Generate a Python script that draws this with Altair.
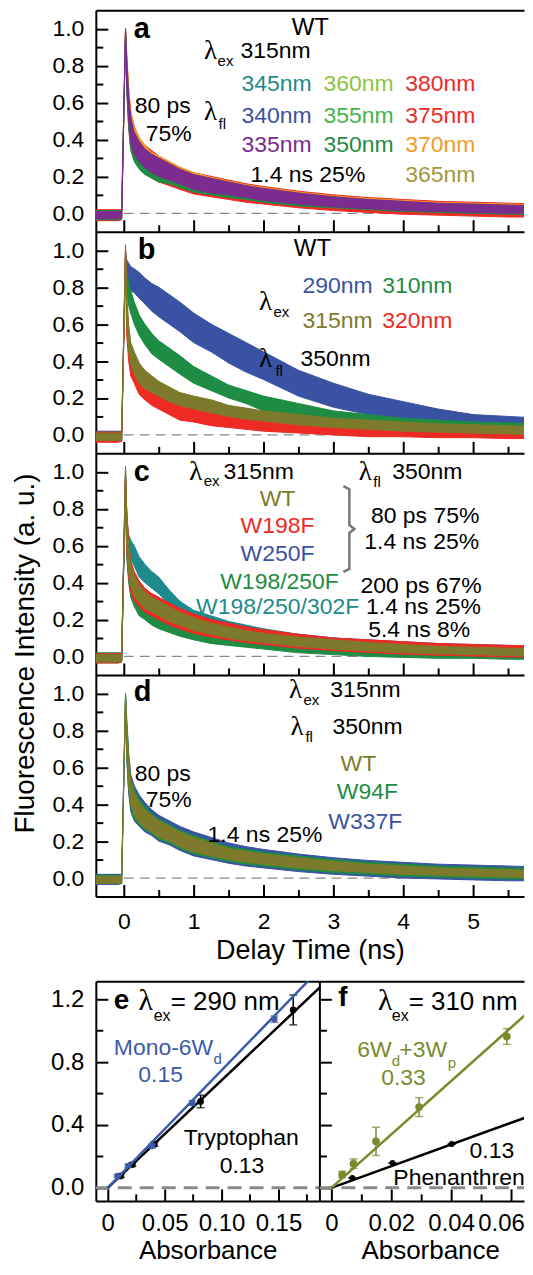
import altair as alt
import pandas as pd

FONT = "Liberation Sans"
SERIF = "Liberation Serif"

# ---------------- colours ----------------
PURPLE = "#7b2c8e"; RED = "#ee2a24"; ORANGE = "#f39c1f"; DKGREEN = "#1f8c44"
LTGREEN = "#8cc43f"; GREEN355 = "#45b549"; TEAL = "#1e8a8c"; BLUE = "#3a52a3"
OLIVE365 = "#a2973a"; OLIVE = "#7d7b2b"; OLIVE_F = "#7a8a2c"; BLUE_E = "#3e5aa8"

# ---------------- decay traces (noise envelope) ----------------
T = [-0.40, -0.20, -0.08, -0.03, 0.025, 0.04, 0.07, 0.10, 0.15, 0.22, 0.30, 0.40, 0.50, 0.65,
     0.80, 1.00, 1.25, 1.50, 1.75, 2.00, 2.50, 3.00, 3.50, 4.00, 4.50, 5.00, 5.50, 6.00]

# panel a (WT, lambda_ex 315 nm, several lambda_fl)
A_RED_LO = [-0.04, -0.04, -0.04, -0.035, 0.96, 0.70, 0.47, 0.35, 0.29, 0.25, 0.22, 0.19, 0.17, 0.15, 0.13, 0.105, 0.09, 0.075, 0.06, 0.05, 0.03, 0.015, 0.005, -0.005, -0.01, -0.015, -0.02, -0.02]
A_RED_HI = [0.02, 0.02, 0.02, 0.02, 1.0, 0.88, 0.67, 0.55, 0.47, 0.41, 0.37, 0.34, 0.31, 0.28, 0.25, 0.22, 0.2, 0.18, 0.16, 0.145, 0.12, 0.1, 0.085, 0.075, 0.065, 0.06, 0.055, 0.05]
A_ORANGE_LO = [-0.03, -0.03, -0.03, -0.025, 0.98, 0.74, 0.52, 0.40, 0.33, 0.29, 0.26, 0.23, 0.21, 0.19, 0.17, 0.14, 0.12, 0.105, 0.09, 0.075, 0.055, 0.04, 0.03, 0.02, 0.015, 0.01, 0.005, 0.005]
A_ORANGE_HI = [0.015, 0.015, 0.015, 0.015, 1.0, 0.88, 0.68, 0.55, 0.47, 0.41, 0.37, 0.33, 0.31, 0.28, 0.25, 0.22, 0.195, 0.175, 0.155, 0.14, 0.115, 0.095, 0.08, 0.07, 0.06, 0.055, 0.05, 0.045]
A_GREEN_LO = [-0.035, -0.035, -0.035, -0.03, 0.97, 0.68, 0.46, 0.34, 0.28, 0.24, 0.21, 0.19, 0.17, 0.16, 0.14, 0.115, 0.1, 0.085, 0.075, 0.06, 0.04, 0.03, 0.02, 0.01, 0.005, 0.0, -0.005, -0.005]
A_GREEN_HI = [0.015, 0.015, 0.015, 0.015, 1.0, 0.84, 0.62, 0.50, 0.42, 0.37, 0.33, 0.30, 0.28, 0.25, 0.22, 0.19, 0.17, 0.155, 0.14, 0.125, 0.1, 0.085, 0.07, 0.06, 0.05, 0.045, 0.04, 0.035]
A_PURPLE_LO = [-0.03, -0.03, -0.03, -0.025, 0.98, 0.72, 0.50, 0.38, 0.32, 0.28, 0.25, 0.22, 0.20, 0.18, 0.16, 0.13, 0.11, 0.10, 0.085, 0.07, 0.05, 0.035, 0.025, 0.015, 0.01, 0.005, 0.0, 0.0]
A_PURPLE_HI = [0.01, 0.01, 0.01, 0.01, 1.0, 0.85, 0.64, 0.52, 0.44, 0.39, 0.35, 0.32, 0.30, 0.27, 0.24, 0.21, 0.19, 0.17, 0.15, 0.135, 0.11, 0.09, 0.075, 0.065, 0.055, 0.05, 0.045, 0.04]

# panel b (WT, lambda_fl 350 nm, several lambda_ex)
B_BLUE_LO = [-0.035, -0.035, -0.035, -0.03, 0.95, 0.82, 0.80, 0.78, 0.77, 0.74, 0.71, 0.67, 0.64, 0.60, 0.56, 0.50, 0.45, 0.39, 0.34, 0.30, 0.21, 0.15, 0.11, 0.08, 0.06, 0.04, 0.03, 0.02]
B_BLUE_HI = [0.02, 0.02, 0.02, 0.02, 1.0, 0.95, 0.93, 0.91, 0.90, 0.88, 0.85, 0.82, 0.80, 0.76, 0.72, 0.66, 0.60, 0.55, 0.50, 0.45, 0.35, 0.28, 0.22, 0.18, 0.14, 0.11, 0.10, 0.09]
B_GREEN_LO = [-0.03, -0.03, -0.03, -0.03, 0.97, 0.78, 0.70, 0.66, 0.60, 0.54, 0.49, 0.44, 0.41, 0.37, 0.33, 0.28, 0.24, 0.20, 0.17, 0.13, 0.09, 0.06, 0.045, 0.03, 0.02, 0.015, 0.01, 0.01]
B_GREEN_HI = [0.015, 0.015, 0.015, 0.015, 1.0, 0.90, 0.82, 0.78, 0.72, 0.65, 0.60, 0.55, 0.51, 0.47, 0.43, 0.37, 0.32, 0.27, 0.24, 0.21, 0.17, 0.13, 0.11, 0.09, 0.08, 0.07, 0.065, 0.06]
B_RED_LO = [-0.04, -0.04, -0.04, -0.035, 1.0, 0.55, 0.40, 0.32, 0.28, 0.22, 0.19, 0.16, 0.14, 0.11, 0.08, 0.07, 0.05, 0.04, 0.03, 0.02, 0.01, 0.0, -0.01, -0.01, -0.015, -0.015, -0.02, -0.02]
B_RED_HI = [0.015, 0.015, 0.015, 0.015, 1.03, 0.75, 0.55, 0.46, 0.42, 0.36, 0.31, 0.28, 0.25, 0.22, 0.20, 0.18, 0.15, 0.13, 0.11, 0.10, 0.08, 0.07, 0.06, 0.055, 0.05, 0.045, 0.04, 0.04]
B_OLIVE_LO = [-0.03, -0.03, -0.03, -0.025, 0.98, 0.60, 0.45, 0.38, 0.33, 0.28, 0.25, 0.23, 0.21, 0.18, 0.16, 0.14, 0.12, 0.10, 0.085, 0.075, 0.055, 0.04, 0.03, 0.02, 0.015, 0.01, 0.005, 0.0]
B_OLIVE_HI = [0.01, 0.01, 0.01, 0.01, 1.0, 0.78, 0.60, 0.50, 0.45, 0.39, 0.35, 0.32, 0.29, 0.26, 0.23, 0.21, 0.19, 0.16, 0.145, 0.13, 0.11, 0.09, 0.08, 0.07, 0.06, 0.055, 0.05, 0.045]

# panel c (mutants)
C_TEAL_LO = [-0.03, -0.03, -0.03, -0.025, 0.90, 0.62, 0.55, 0.53, 0.49, 0.43, 0.40, 0.37, 0.34, 0.28, 0.22, 0.18, 0.15, 0.12, 0.10, 0.09, 0.06, 0.045, 0.035, 0.025, 0.02, 0.015, 0.01, 0.005]
C_TEAL_HI = [0.015, 0.015, 0.015, 0.015, 0.95, 0.75, 0.66, 0.63, 0.60, 0.54, 0.50, 0.46, 0.43, 0.36, 0.30, 0.25, 0.22, 0.19, 0.17, 0.15, 0.12, 0.10, 0.085, 0.075, 0.065, 0.06, 0.055, 0.05]
C_GREEN_LO = [-0.035, -0.035, -0.035, -0.03, 0.97, 0.55, 0.40, 0.32, 0.27, 0.22, 0.20, 0.17, 0.15, 0.13, 0.11, 0.09, 0.07, 0.06, 0.05, 0.04, 0.02, 0.01, 0.0, -0.005, -0.01, -0.01, -0.015, -0.015]
C_GREEN_HI = [0.02, 0.02, 0.02, 0.02, 1.03, 0.75, 0.55, 0.45, 0.40, 0.35, 0.31, 0.28, 0.26, 0.24, 0.21, 0.19, 0.16, 0.14, 0.13, 0.12, 0.10, 0.085, 0.075, 0.065, 0.06, 0.055, 0.05, 0.045]
C_BLUE_LO = [-0.03, -0.03, -0.03, -0.025, 0.97, 0.60, 0.42, 0.36, 0.30, 0.27, 0.24, 0.22, 0.20, 0.17, 0.15, 0.13, 0.11, 0.09, 0.08, 0.065, 0.045, 0.035, 0.025, 0.015, 0.01, 0.005, 0.0, 0.0]
C_BLUE_HI = [0.015, 0.015, 0.015, 0.015, 1.0, 0.80, 0.60, 0.50, 0.45, 0.40, 0.36, 0.34, 0.32, 0.29, 0.26, 0.23, 0.20, 0.18, 0.16, 0.14, 0.12, 0.10, 0.09, 0.08, 0.07, 0.065, 0.06, 0.055]
C_RED_LO = [-0.035, -0.035, -0.035, -0.03, 0.97, 0.60, 0.43, 0.35, 0.30, 0.27, 0.24, 0.22, 0.20, 0.17, 0.15, 0.125, 0.105, 0.09, 0.075, 0.065, 0.045, 0.032, 0.022, 0.012, 0.007, 0.002, -0.003, -0.003]
C_RED_HI = [0.015, 0.015, 0.015, 0.015, 1.0, 0.82, 0.62, 0.52, 0.46, 0.41, 0.37, 0.34, 0.32, 0.29, 0.26, 0.23, 0.20, 0.18, 0.16, 0.145, 0.12, 0.10, 0.09, 0.08, 0.07, 0.065, 0.06, 0.055]
C_OLIVE_LO = [-0.03, -0.03, -0.03, -0.025, 0.98, 0.62, 0.45, 0.38, 0.33, 0.29, 0.26, 0.24, 0.22, 0.19, 0.17, 0.14, 0.12, 0.10, 0.085, 0.075, 0.055, 0.04, 0.03, 0.02, 0.015, 0.01, 0.005, 0.0]
C_OLIVE_HI = [0.01, 0.01, 0.01, 0.01, 1.03, 0.80, 0.60, 0.50, 0.44, 0.39, 0.35, 0.32, 0.30, 0.27, 0.24, 0.21, 0.18, 0.16, 0.14, 0.125, 0.105, 0.09, 0.075, 0.065, 0.055, 0.05, 0.045, 0.04]

# panel d
D_BLUE_LO = [-0.035, -0.035, -0.035, -0.03, 0.96, 0.66, 0.46, 0.36, 0.31, 0.28, 0.25, 0.23, 0.20, 0.18, 0.15, 0.12, 0.10, 0.08, 0.065, 0.055, 0.035, 0.02, 0.01, 0.0, -0.005, -0.01, -0.015, -0.015]
D_BLUE_HI = [0.02, 0.02, 0.02, 0.02, 1.0, 0.88, 0.68, 0.56, 0.50, 0.45, 0.41, 0.37, 0.34, 0.31, 0.28, 0.25, 0.22, 0.19, 0.17, 0.155, 0.13, 0.11, 0.095, 0.085, 0.075, 0.07, 0.065, 0.06]
D_GREEN_LO = [-0.03, -0.03, -0.03, -0.025, 0.97, 0.68, 0.48, 0.38, 0.32, 0.29, 0.26, 0.24, 0.21, 0.19, 0.16, 0.13, 0.11, 0.09, 0.075, 0.065, 0.045, 0.03, 0.02, 0.01, 0.005, 0.0, -0.005, -0.005]
D_GREEN_HI = [0.015, 0.015, 0.015, 0.015, 1.0, 0.86, 0.66, 0.54, 0.48, 0.43, 0.39, 0.35, 0.32, 0.29, 0.26, 0.23, 0.20, 0.17, 0.155, 0.14, 0.12, 0.10, 0.085, 0.075, 0.065, 0.06, 0.055, 0.05]
D_OLIVE_LO = [-0.03, -0.03, -0.03, -0.025, 0.98, 0.70, 0.50, 0.40, 0.34, 0.30, 0.27, 0.25, 0.22, 0.20, 0.17, 0.14, 0.12, 0.10, 0.085, 0.075, 0.055, 0.04, 0.03, 0.02, 0.015, 0.01, 0.005, 0.0]
D_OLIVE_HI = [0.01, 0.01, 0.01, 0.01, 1.0, 0.85, 0.65, 0.52, 0.46, 0.41, 0.37, 0.34, 0.31, 0.28, 0.25, 0.22, 0.19, 0.16, 0.145, 0.13, 0.11, 0.09, 0.075, 0.065, 0.055, 0.05, 0.045, 0.04]

# ---------------- quantum-yield panels ----------------
E_TRP_X = [0.0114, 0.0216, 0.041, 0.0816, 0.163]
E_TRP_Y = [0.076, 0.148, 0.279, 0.55, 1.132]
E_TRP_ERR = [0.01, 0.012, 0.015, 0.04, 0.095]
E_MONO_X = [0.0085, 0.018, 0.039, 0.0743, 0.1465]
E_MONO_Y = [0.076, 0.14, 0.266, 0.54, 1.073]
E_MONO_ERR = [0.008, 0.01, 0.012, 0.015, 0.02]
E_TRP_FIT_X = [0.0, 0.19]; E_TRP_FIT_Y = [0.0, 1.30]
E_MONO_FIT_X = [0.0, 0.19]; E_MONO_FIT_Y = [0.0, 1.42]

F_PHEN_X = [0.007, 0.0204, 0.0402]
F_PHEN_Y = [0.063, 0.159, 0.279]
F_DIM_X = [0.0036, 0.0074, 0.0149, 0.0293, 0.0586]
F_DIM_Y = [0.085, 0.154, 0.296, 0.514, 0.963]
F_DIM_ERR = [0.02, 0.03, 0.09, 0.06, 0.05]
F_DIM_FIT_X = [0.0, 0.07]; F_DIM_FIT_Y = [0.0, 1.19]
F_PHEN_FIT_X = [0.0, 0.07]; F_PHEN_FIT_Y = [0.0, 0.483]

# bracket in panel c (annotation path, data units)
BRACE_T = [3.143, 3.229, 3.229, 3.30, 3.229, 3.229, 3.143]
BRACE_V = [0.923, 0.906, 0.712, 0.69, 0.669, 0.474, 0.458]

W, H = 429, 222
TDOM = [-0.4, 5.7286]


def area(xs, ys, lo, hi, color):
    df = pd.DataFrame({"t": T, "lo": lo, "hi": hi})
    return alt.Chart(df).mark_area(color=color, stroke=color, strokeWidth=1, opacity=1, clip=True).encode(
        x=alt.X("t:Q", scale=xs, axis=None),
        y=alt.Y("lo:Q", scale=ys, axis=None),
        y2="hi:Q")


def axis_carrier(xs, ys, xaxis, yaxis, x0, y0):
    df = pd.DataFrame({"x": [x0], "y": [y0]})
    return alt.Chart(df).mark_point(opacity=0).encode(
        x=alt.X("x:Q", scale=xs, axis=xaxis),
        y=alt.Y("y:Q", scale=ys, axis=yaxis))


def tick_axis(orient, values, size):
    return alt.Axis(orient=orient, values=values, labels=False, domain=False, ticks=True,
                    tickSize=size, tickWidth=2, tickColor="black", offset=-size, grid=False, title=None)


def border_axis(orient):
    return alt.Axis(orient=orient, labels=False, ticks=False, domain=True, domainWidth=2,
                    domainColor="black", grid=False, title=None)


def txt(xs, ys, x, y, s, size=23, color="black", align="left", weight="normal", font=FONT, clip=False):
    df = pd.DataFrame({"x": [x], "y": [y], "s": [s]})
    return alt.Chart(df).mark_text(align=align, baseline="middle", fontSize=size, color=color,
                                   fontWeight=weight, font=font, clip=clip).encode(
        x=alt.X("x:Q", scale=xs, axis=None),
        y=alt.Y("y:Q", scale=ys, axis=None),
        text="s:N")


def decay_panel(traces, texts, show_x=False, ytitle=False, top_border=False, extra=None):
    xs = alt.Scale(domain=TDOM, nice=False, zero=False)
    ys = alt.Scale(domain=[-0.1, 1.1], nice=False, zero=False)
    layers = []
    zl = pd.DataFrame({"x": [0.0], "x2": [6.0], "y": [0.0]})
    layers.append(alt.Chart(zl).mark_rule(color="#8a8a8a", strokeWidth=1.3, strokeDash=[10, 6], clip=True).encode(
        x=alt.X("x:Q", scale=xs, axis=None), x2="x2:Q", y=alt.Y("y:Q", scale=ys, axis=None)))
    for lo, hi, col in traces:
        layers.append(area(xs, ys, lo, hi, col))
    if extra is not None:
        layers += extra(xs, ys)
    yl = dict(orient="left", values=[0, 0.2, 0.4, 0.6, 0.8, 1.0], format=".1f", ticks=False, tickSize=0,
              domain=True, domainWidth=2, domainColor="black", grid=False, labelPadding=12)
    if ytitle:
        ylab = alt.Axis(title="Fluorescence Intensity (a. u.)", titleX=-62, titleY=200, titleAngle=-90,
                        titleAlign="center", titleBaseline="alphabetic", titleFontSize=28, **yl)
    else:
        ylab = alt.Axis(title=None, **yl)
    layers.append(axis_carrier(xs, ys, tick_axis("bottom", [0, 1, 2, 3, 4, 5], 12), ylab, 0.0, 0.0))
    layers.append(axis_carrier(xs, ys, tick_axis("bottom", [0.5, 1.5, 2.5, 3.5, 4.5, 5.5], 7),
                               tick_axis("left", [0, 0.2, 0.4, 0.6, 0.8, 1.0], 12), 0.0, 0.0))
    if show_x:
        xlab = alt.Axis(orient="bottom", values=[0, 1, 2, 3, 4, 5], format="d", ticks=False, tickSize=0,
                        domain=True, domainWidth=2, domainColor="black", grid=False, labelPadding=14,
                        title="Delay Time (ns)", titleFontSize=27, titlePadding=4)
    else:
        xlab = border_axis("bottom")
    layers.append(axis_carrier(xs, ys, xlab, tick_axis("left", [0.1, 0.3, 0.5, 0.7, 0.9], 7), 0.0, 0.0))
    if top_border:
        layers.append(axis_carrier(xs, ys, border_axis("top"), None, 0.0, 0.0))
    for t in texts:
        layers.append(txt(xs, ys, *t))
    return alt.layer(*layers).properties(width=W, height=H).resolve_axis(x="independent", y="independent")


A_TEXTS = [
    (0.143, 0.996, "a", 29, "black", "left", "bold"),
    (2.671, 1.005, "WT", 24, "black", "center"),
    (1.243, 0.879, "λ", 27, "black", "center", "normal", SERIF),
    (1.343, 0.826, "ex", 15),
    (1.671, 0.879, "315nm", 23),
    (1.686, 0.700, "345nm", 23, TEAL), (2.857, 0.700, "360nm", 23, LTGREEN), (4.029, 0.700, "380nm", 23, RED),
    (1.686, 0.529, "340nm", 23, BLUE), (2.857, 0.529, "355nm", 23, GREEN355), (4.029, 0.529, "375nm", 23, RED),
    (1.686, 0.368, "335nm", 23, PURPLE), (2.857, 0.368, "350nm", 23, DKGREEN), (4.029, 0.368, "370nm", 23, ORANGE),
    (1.814, 0.21, "1.4 ns 25%", 23), (4.029, 0.21, "365nm", 23, OLIVE365),
    (1.243, 0.549, "λ", 27, "black", "center", "normal", SERIF),
    (1.357, 0.485, "fl", 15),
    (0.557, 0.583, "80 ps", 23, "black", "center"),
    (0.643, 0.431, "75%", 23, "black", "center"),
]
B_TEXTS = [
    (0.2, 1.0, "b", 29, "black", "left", "bold"),
    (2.7, 1.005, "WT", 24, "black", "center"),
    (2.029, 0.719, "λ", 27, "black", "center", "normal", SERIF),
    (2.143, 0.665, "ex", 15),
    (2.557, 0.807, "290nm", 23, BLUE), (3.7, 0.807, "310nm", 23, DKGREEN),
    (2.557, 0.618, "315nm", 23, OLIVE), (3.7, 0.618, "320nm", 23, RED),
    (2.029, 0.411, "λ", 27, "black", "center", "normal", SERIF),
    (2.171, 0.348, "fl", 15),
    (2.529, 0.411, "350nm", 23),
]
C_TEXTS = [
    (0.143, 1.0, "c", 29, "black", "left", "bold"),
    (1.029, 1.0, "λ", 27, "black", "center", "normal", SERIF),
    (1.143, 0.951, "ex", 15),
    (1.429, 1.0, "315nm", 23),
    (3.457, 1.0, "λ", 27, "black", "center", "normal", SERIF),
    (3.571, 0.944, "fl", 15),
    (3.843, 1.0, "350nm", 23),
    (2.2, 0.852, "WT", 23, OLIVE, "center"),
    (2.2, 0.708, "W198F", 23, RED, "center"),
    (2.2, 0.555, "W250F", 23, BLUE, "center"),
    (2.229, 0.402, "W198/250F", 23, DKGREEN, "center"),
    (4.314, 0.762, "80 ps 75%", 23, "black", "center"),
    (4.264, 0.618, "1.4 ns 25%", 23, "black", "center"),
    (4.257, 0.384, "200 ps 67%", 23, "black", "center"),
    (4.29, 0.267, "1.4 ns 25%", 23, "black", "center"),
    (4.229, 0.141, "5.4 ns 8%", 23, "black", "center"),
    (3.37, 0.267, "W198/250/302F", 23, TEAL, "right"),
]
D_TEXTS = [
    (0.143, 1.009, "d", 29, "black", "left", "bold"),
    (2.457, 1.018, "λ", 27, "black", "center", "normal", SERIF),
    (2.571, 0.964, "ex", 15),
    (2.957, 1.018, "315nm", 23),
    (2.479, 0.819, "λ", 27, "black", "center", "normal", SERIF),
    (2.6, 0.765, "fl", 15),
    (2.986, 0.819, "350nm", 23),
    (3.357, 0.620, "WT", 23, OLIVE, "center"),
    (3.486, 0.466, "W94F", 23, DKGREEN, "center"),
    (3.457, 0.304, "W337F", 23, BLUE, "center"),
    (0.557, 0.566, "80 ps", 23, "black", "center"),
    (0.643, 0.421, "75%", 23, "black", "center"),
    (1.2, 0.232, "1.4 ns 25%", 23),
]


def brace(xs, ys):
    df = pd.DataFrame({"t": BRACE_T, "v": BRACE_V, "i": list(range(len(BRACE_T)))})
    return [alt.Chart(df).mark_line(color="#777777", strokeWidth=2.5).encode(
        x=alt.X("t:Q", scale=xs, axis=None), y=alt.Y("v:Q", scale=ys, axis=None), order="i:Q")]


pa = decay_panel([(A_RED_LO, A_RED_HI, RED), (A_ORANGE_LO, A_ORANGE_HI, ORANGE),
                  (A_GREEN_LO, A_GREEN_HI, DKGREEN), (A_PURPLE_LO, A_PURPLE_HI, PURPLE)], A_TEXTS,
                 top_border=True)
pb = decay_panel([(B_BLUE_LO, B_BLUE_HI, BLUE), (B_GREEN_LO, B_GREEN_HI, DKGREEN),
                  (B_RED_LO, B_RED_HI, RED), (B_OLIVE_LO, B_OLIVE_HI, OLIVE)], B_TEXTS)
pc = decay_panel([(C_TEAL_LO, C_TEAL_HI, TEAL), (C_GREEN_LO, C_GREEN_HI, DKGREEN),
                  (C_BLUE_LO, C_BLUE_HI, BLUE), (C_RED_LO, C_RED_HI, RED),
                  (C_OLIVE_LO, C_OLIVE_HI, OLIVE)], C_TEXTS, ytitle=True, extra=brace)
pd_ = decay_panel([(D_BLUE_LO, D_BLUE_HI, BLUE), (D_GREEN_LO, D_GREEN_HI, DKGREEN),
                   (D_OLIVE_LO, D_OLIVE_HI, OLIVE)], D_TEXTS, show_x=True)

# ---------------- panels e, f ----------------
YQ = alt.Scale(domain=[-0.083, 1.314], nice=False, zero=False)
EW, FW, QH = 224, 205, 220
QFMT = "datum.value == 0 ? '0' : format(datum.value, '.2f')"


def fit_line(xs, ys, fx, fy, color):
    df = pd.DataFrame({"x": fx, "y": fy})
    return alt.Chart(df).mark_line(color=color, strokeWidth=2.5, clip=True).encode(
        x=alt.X("x:Q", scale=xs, axis=None), y=alt.Y("y:Q", scale=ys, axis=None))


def points(xs, ys, px, py, err, color, size):
    df = pd.DataFrame({"x": px, "y": py, "lo": [a - b for a, b in zip(py, err)],
                       "hi": [a + b for a, b in zip(py, err)]})
    base = alt.Chart(df)
    X = alt.X("x:Q", scale=xs, axis=None)
    return [
        base.mark_rule(color=color, strokeWidth=1.5).encode(x=X, y=alt.Y("lo:Q", scale=ys, axis=None), y2="hi:Q"),
        base.mark_tick(color=color, orient="horizontal", size=8, thickness=1.5).encode(x=X, y=alt.Y("lo:Q", scale=ys, axis=None)),
        base.mark_tick(color=color, orient="horizontal", size=8, thickness=1.5).encode(x=X, y=alt.Y("hi:Q", scale=ys, axis=None)),
        base.mark_point(color=color, filled=True, opacity=1, size=size).encode(x=X, y=alt.Y("y:Q", scale=ys, axis=None)),
    ]


def qy_panel(xdom, width, xlab_vals, xmajor, xminor, ylabels, texts, content, title_x=None, last_label=None):
    xs = alt.Scale(domain=xdom, nice=False, zero=False)
    ys = YQ
    layers = []
    zl = pd.DataFrame({"x": [xdom[0]], "x2": [xdom[1]], "y": [0.0]})
    layers.append(alt.Chart(zl).mark_rule(color="#8a8a8a", strokeWidth=3, strokeDash=[14, 8], clip=True).encode(
        x=alt.X("x:Q", scale=xs, axis=None), x2="x2:Q", y=alt.Y("y:Q", scale=ys, axis=None)))
    layers += content(xs, ys)
    ylab = alt.Axis(orient="left", values=[0, 0.4, 0.8, 1.2], format=".1f", ticks=False, tickSize=0,
                    labels=ylabels, domain=True, domainWidth=2, domainColor="black", grid=False,
                    labelPadding=12, labelFontSize=24, title=None)
    xl = dict(orient="bottom", values=xlab_vals, ticks=False, tickSize=0, domain=True, domainWidth=2,
              domainColor="black", grid=False, labelExpr=QFMT, labelPadding=11, labelFontSize=24,
              title="Absorbance", titleFontSize=26, titlePadding=2)
    if title_x is not None:
        xl["titleX"] = title_x
    xlab = alt.Axis(**xl)
    layers.append(axis_carrier(xs, ys, xlab, ylab, 0.0, 0.0))
    layers.append(axis_carrier(xs, ys, tick_axis("bottom", xmajor, 12), tick_axis("left", [0, 0.4, 0.8, 1.2], 12), 0.0, 0.0))
    layers.append(axis_carrier(xs, ys, tick_axis("bottom", xminor, 7), tick_axis("left", [0.2, 0.6, 1.0], 7), 0.0, 0.0))
    layers.append(axis_carrier(xs, ys, border_axis("top"), None, 0.0, 0.0))
    if last_label is not None:
        la = alt.Axis(orient="bottom", values=[last_label], ticks=False, tickSize=0, domain=False, grid=False,
                      labelExpr=QFMT, labelPadding=11, labelFontSize=24, labelOffset=-10, title=None)
        layers.append(axis_carrier(xs, ys, la, None, 0.0, 0.0))
    for t in texts:
        layers.append(txt(xs, ys, *t))
    return alt.layer(*layers).properties(width=width, height=QH).resolve_axis(x="independent", y="independent")


def e_content(xs, ys):
    return ([fit_line(xs, ys, E_TRP_FIT_X, E_TRP_FIT_Y, "black")] +
            points(xs, ys, E_TRP_X, E_TRP_Y, E_TRP_ERR, "black", 45) +
            [fit_line(xs, ys, E_MONO_FIT_X, E_MONO_FIT_Y, BLUE_E)] +
            points(xs, ys, E_MONO_X, E_MONO_Y, E_MONO_ERR, BLUE_E, 40))


def f_content(xs, ys):
    return ([fit_line(xs, ys, F_PHEN_FIT_X, F_PHEN_FIT_Y, "black")] +
            points(xs, ys, F_PHEN_X, F_PHEN_Y, [0, 0, 0], "black", 35) +
            [fit_line(xs, ys, F_DIM_FIT_X, F_DIM_FIT_Y, OLIVE_F)] +
            points(xs, ys, F_DIM_X, F_DIM_Y, F_DIM_ERR, OLIVE_F, 60))


E_TEXTS = [
    (0.0053, 1.187, "e", 28, "black", "left", "bold"),
    (0.0333, 1.187, "λ", 30, "black", "center", "normal", SERIF),
    (0.0404, 1.092, "ex", 16),
    (0.0553, 1.181, "= 290 nm", 26),
    (0.0053, 0.889, "Mono-6W", 23, BLUE_E),
    (0.0930, 0.819, "d", 15, BLUE_E),
    (0.0465, 0.717, "0.15", 23, BLUE_E, "center"),
    (0.0667, 0.317, "Tryptophan", 23),
    (0.118, 0.14, "0.13", 23, "black", "center"),
]
F_TEXTS = [
    (0.0023, 1.206, "f", 28, "black", "left", "bold"),
    (0.018, 1.187, "λ", 30, "black", "center", "normal", SERIF),
    (0.0202, 1.092, "ex", 16),
    (0.0258, 1.181, "= 310 nm", 26),
    (0.0086, 0.876, "6W", 23, OLIVE_F),
    (0.0202, 0.806, "d", 15, OLIVE_F),
    (0.0227, 0.876, "+3W", 23, OLIVE_F),
    (0.0389, 0.794, "p", 15, OLIVE_F),
    (0.0241, 0.698, "0.33", 23, OLIVE_F, "center"),
    (0.0536, 0.235, "0.13", 23, "black", "center"),
    (0.0207, 0.063, "Phenanthrene", 23, "black", "left", "normal", FONT, True),
]

pe = qy_panel([-0.0105, 0.186], EW, [0, 0.05, 0.10, 0.15], [0, 0.05, 0.10, 0.15],
              [0.025, 0.075, 0.125, 0.175], True, E_TEXTS, e_content)
pf = qy_panel([-0.004, 0.06433], FW, [0, 0.02, 0.04], [0, 0.02, 0.04, 0.06],
              [0.01, 0.03, 0.05], False, F_TEXTS, f_content, title_x=111, last_label=0.06)

spacer = alt.Chart(pd.DataFrame({"v": [0.0]})).mark_point(opacity=0).encode(
    x=alt.X("v:Q", axis=None), y=alt.Y("v:Q", axis=None)).properties(width=10, height=85)

bottom = alt.hconcat(pe, pf, spacing=0, bounds="flush")

chart = alt.vconcat(pa, pb, pc, pd_, spacer, bottom, spacing=0, bounds="flush").properties(
    padding={"left": 3, "top": 1, "right": 0, "bottom": 0}
).configure_view(strokeWidth=0).configure_axis(
    labelFont=FONT, titleFont=FONT, labelColor="black", titleColor="black",
    labelFontSize=23, titleFontWeight="normal", grid=False, domainColor="black", domainWidth=2
)

chart.save("out.html", embed_options={"renderer": "svg", "actions": False})
